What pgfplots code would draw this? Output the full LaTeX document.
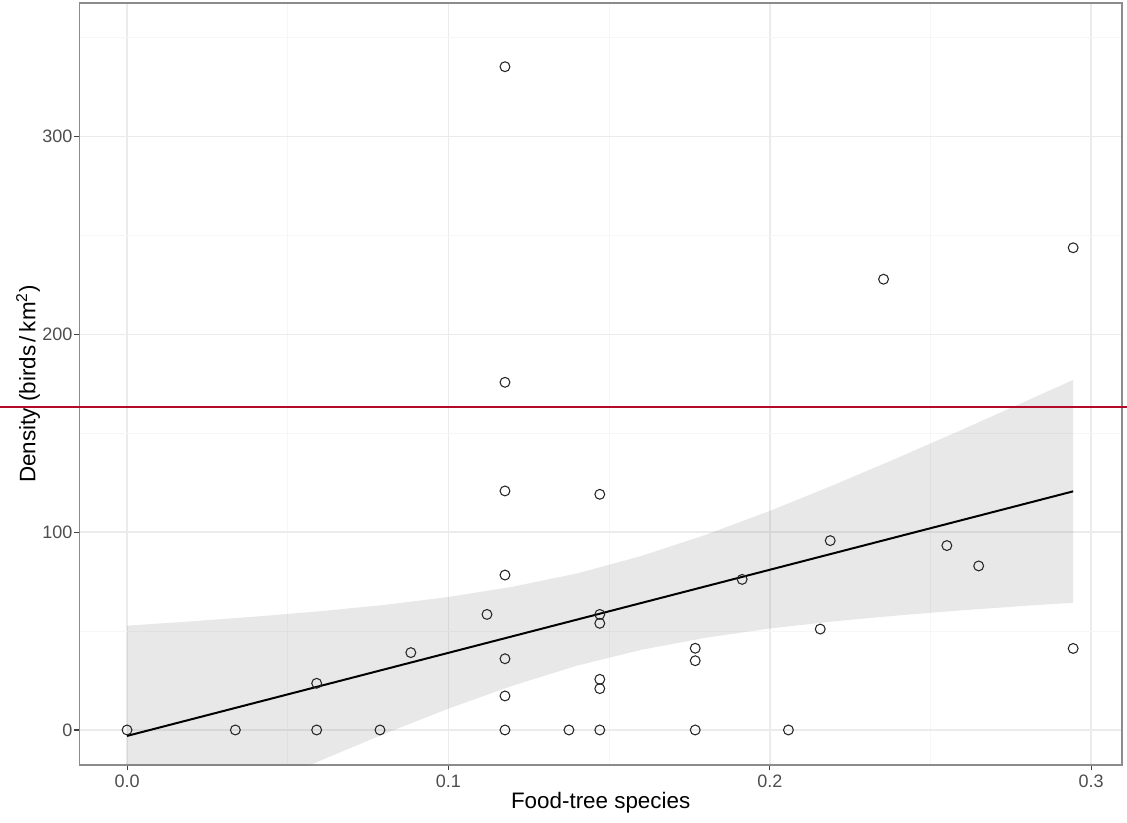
\documentclass[border=0pt]{standalone}
\usepackage{pgfplots}
\pgfplotsset{compat=1.18}
\usepackage{fontspec}
\setmainfont{Liberation Sans}

\definecolor{gridmaj}{RGB}{235,235,235}
\definecolor{gridmin}{RGB}{246,246,246}
\definecolor{ticktext}{RGB}{77,77,77}
\definecolor{panelborder}{RGB}{140,140,140}
\definecolor{refred}{RGB}{180,10,42}

% Observed densities against the share of food-tree species
\pgfplotstableread{
x y
0.0000 0.0
0.0337 0.0
0.0590 23.6
0.0590 0.0
0.0787 0.0
0.0883 39.1
0.1120 58.4
0.1176 335.2
0.1176 175.7
0.1176 120.8
0.1176 78.3
0.1176 36.0
0.1176 17.2
0.1176 0.0
0.1375 0.0
0.1471 119.1
0.1471 58.4
0.1471 53.9
0.1471 25.6
0.1471 20.9
0.1471 0.0
0.1768 41.3
0.1768 35.0
0.1768 0.0
0.1914 76.1
0.2058 0.0
0.2157 51.0
0.2188 95.7
0.2354 227.8
0.2551 93.2
0.2650 82.9
0.2944 243.7
0.2944 41.2
}\birds

\begin{document}
\begin{tikzpicture}[x=1pt,y=1pt]
\path[use as bounding box] (0,0) rectangle (845.25,616.5);
\begin{axis}[
  at={(59.5pt,42.75pt)}, anchor=south west,
  scale only axis, width=782pt, height=571.5pt,
  xmin=-0.01485, xmax=0.3096, ymin=-17.7, ymax=367.4,
  xtick={0,0.1,0.2,0.3}, ytick={0,100,200,300},
  minor xtick={0.05,0.15,0.25}, minor ytick={50,150,250,350},
  grid=both,
  major grid style={gridmaj, line width=1.1pt},
  minor grid style={gridmin, line width=0.6pt},
  axis line style={panelborder, line width=1pt},
  tick pos=left, tick align=outside,
  major tick style={black!75, line width=0.8pt},
  major tick length=4pt, minor tick length=0pt,
  /pgf/number format/assume math mode=true,
  xticklabel style={/pgf/number format/fixed, /pgf/number format/fixed zerofill, /pgf/number format/precision=1},
  yticklabel style={/pgf/number format/fixed, inner sep=1pt},
  tick label style={font=\fontsize{13.5}{15}\selectfont, text=ticktext},
  xlabel={Food-tree species},
  ylabel={Density (birds\,/\,km\textsuperscript{2})},
  label style={font=\fontsize{16.8}{19}\selectfont, text=black},
  xlabel style={at={(axis description cs:0.5,-0.0499)}, anchor=center},
  ylabel style={at={(axis description cs:-0.0492,0.5)}, anchor=center},
  extra description/.code={
    % reference level, drawn across the full width of the figure
    \draw[refred, line width=1.5pt] (axis cs:-0.0395,163) -- (axis cs:0.3112,163);
  },
]
% confidence band of the linear fit
\addplot[draw=none, fill=black!60, fill opacity=0.15] coordinates {
  (0.00,52.7) (0.02,54.9) (0.04,57.3) (0.06,60.0) (0.08,63.2) (0.10,67.2)
  (0.12,72.4) (0.14,79.1) (0.16,87.9) (0.18,98.6) (0.20,110.7) (0.22,123.9)
  (0.24,137.7) (0.26,151.9) (0.28,166.4) (0.2944,176.9)
  (0.2944,64.3) (0.28,62.8) (0.26,60.5) (0.24,57.9) (0.22,54.9) (0.20,51.3)
  (0.18,46.6) (0.16,40.5) (0.14,32.5) (0.12,22.4) (0.10,10.8) (0.08,-2.0)
  (0.06,-15.6) (0.04,-29.7) (0.02,-44.1) (0.00,-58.7)
} -- cycle;
% observations
\addplot[only marks, mark=o, mark size=3.7pt,
  mark options={draw=black!85, line width=0.8pt}] table[x=x, y=y] {\birds};
% linear fit
\addplot[black, line width=1.5pt] coordinates {(0,-3.0) (0.2944,120.6)};
\end{axis}
\end{tikzpicture}
\end{document}
